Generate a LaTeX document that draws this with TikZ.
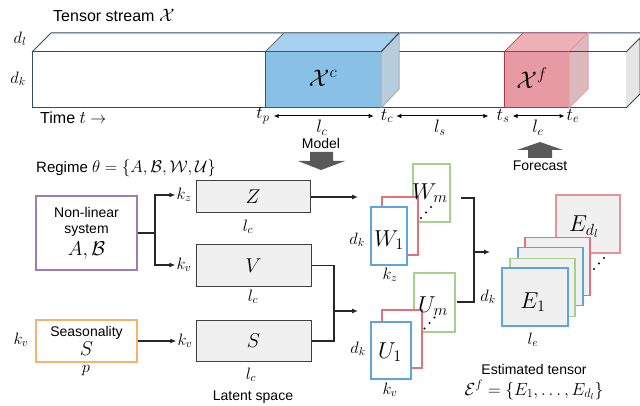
\documentclass[tikz,border=0pt]{standalone}
\usepackage{fix-cm}
\usepackage{fontspec}
\setmainfont{Liberation Sans}
\usetikzlibrary{arrows.meta}
\definecolor{tubeline}{HTML}{2F4B66}
\definecolor{cubegrey}{HTML}{505050}
\definecolor{bluefront}{HTML}{88C1E5}
\definecolor{bluetop}{HTML}{A6D0EE}
\definecolor{blueside}{HTML}{B8CDDC}
\definecolor{redfront}{HTML}{E89AA2}
\definecolor{redtop}{HTML}{EDB1B7}
\definecolor{redside}{HTML}{DDB8BD}
\definecolor{reddark}{HTML}{A63A47}
\definecolor{endgrey}{HTML}{E6E6E6}
\definecolor{cpurple}{HTML}{A07CB4}
\definecolor{corange}{HTML}{F9B26E}
\definecolor{cgreen}{HTML}{A7D08C}
\definecolor{cred}{HTML}{E4707C}
\definecolor{credl}{HTML}{E8939C}
\definecolor{cblue}{HTML}{5EA5DD}
\definecolor{boxfill}{HTML}{F0F0F0}
\definecolor{boxline}{HTML}{404040}
\definecolor{bigarrow}{HTML}{595959}
\tikzset{
  txt/.style={font=\fontsize{14}{16}\selectfont, inner sep=1pt},
  bigtxt/.style={font=\fontsize{16}{18}\selectfont, inner sep=1pt},
  mlab/.style={font=\fontsize{16.5}{18}\selectfont, inner sep=1pt},
  tlab/.style={font=\fontsize{18}{20}\selectfont, inner sep=1pt},
  biglet/.style={font=\fontsize{23}{25}\selectfont, inner sep=0pt},
  latent/.style={draw=boxline, fill=boxfill, line width=1pt, minimum width=115pt, font=\fontsize{20}{22}\selectfont, inner sep=0pt},
  srcbox/.style={draw, fill=white, line width=1.1pt, minimum width=101pt, align=center, font=\fontsize{14}{17}\selectfont, inner sep=0pt},
  matbox/.style={line width=1.1pt, fill=white, inner sep=0pt},
  ebox/.style={line width=1.1pt, fill=boxfill, inner sep=0pt, minimum width=65pt, minimum height=58pt},
  conn/.style={line width=1.1pt, draw=black!85, -{Latex[length=6pt,width=5pt]}},
  plainline/.style={line width=1.1pt, draw=black!85},
  dimarrow/.style={line width=1pt, {Latex[length=5pt,width=4.5pt]}-{Latex[length=5pt,width=4.5pt]}},
  dotmark/.style={fill=black, draw=none},
}
\begin{document}
\begin{tikzpicture}[x=1pt,y=-1pt]
\useasboundingbox (0,0) rectangle (640,406);

% ---------- tensor stream tube ----------
\fill[white] (32,52) rectangle (626,108);
\draw[tubeline, line width=1pt] (32,52) -- (51,33) -- (640,33);
\draw[tubeline, line width=1pt] (32,52) rectangle (626,108);
\filldraw[fill=endgrey, draw=tubeline, line width=1pt] (626,52) -- (640,38) -- (640,94) -- (626,108);

% blue cube
\filldraw[fill=bluetop, draw=cubegrey!80, line width=1pt] (265,52) -- (284,33) -- (399,33) -- (381,52) -- cycle;
\filldraw[fill=bluefront, draw=cubegrey, line width=1pt] (265,52) rectangle (381,108);
\filldraw[fill=blueside, draw=tubeline!45, line width=1pt] (381,52) -- (399,33) -- (399,89) -- (381,108) -- cycle;
\draw[tubeline, line width=1pt] (381,52) -- (399,33);
% red cube
\filldraw[fill=redtop, draw=reddark!80, line width=1pt] (504,52) -- (523,33) -- (588,33) -- (569,52) -- cycle;
\filldraw[fill=redfront, draw=reddark, line width=1pt] (504,52) rectangle (569,108);
\filldraw[fill=redside, draw=reddark!45, line width=1pt] (569,52) -- (588,33) -- (588,89) -- (569,108) -- cycle;
\draw[tubeline, line width=1pt] (569,52) -- (626,52);

\node[font=\fontsize{24}{26}\selectfont] (Xc) at (323,78) {$\mathcal{X}^c$};
\node[font=\fontsize{24}{26}\selectfont] (Xf) at (532,78) {$\mathcal{X}^f$};

\node[bigtxt, anchor=west] (title) at (52,15) {Tensor stream {\fontsize{18}{20}\selectfont$\mathcal{X}$}};
\node[mlab] (dl) at (20,39) {$d_l$};
\node[mlab] (dk) at (18,79) {$d_k$};
\node[bigtxt, anchor=west] (time) at (39,118) {Time {\fontsize{18}{20}\selectfont$t$} $\rightarrow$};

\node[tlab] (tp) at (263,116) {$t_p$};
\node[tlab] (tc) at (387,116) {$t_c$};
\node[tlab] (ts) at (503,116) {$t_s$};
\node[tlab] (te) at (573,116) {$t_e$};
\node[tlab] (lc) at (322,128) {$l_c$};
\node[tlab] (ls) at (440,128) {$l_s$};
\node[tlab] (le) at (538,128) {$l_e$};
\draw[dimarrow, shorten <=3pt, shorten >=6pt] (tp) -- (tc);
\draw[dimarrow, shorten <=2pt, shorten >=7pt] (tc) -- (ts);
\draw[dimarrow, shorten <=2pt, shorten >=1pt] (ts) -- (te);

% Model / Forecast arrows
\node[txt] (model) at (321,143) {Model};
\fill[bigarrow] (310,152) -- (333,152) -- (333,161) -- (345,161) -- (321,170) -- (298,161) -- (310,161) -- cycle;
\fill[bigarrow] (528,158) -- (552,158) -- (552,150) -- (563,150) -- (540,142) -- (517,150) -- (528,150) -- cycle;
\node[txt] (forecast) at (540,166) {Forecast};

\node[txt, font=\fontsize{15}{17}\selectfont, anchor=west] (regime) at (35,168) {Regime {\fontsize{17}{19}\selectfont$\theta = \{A,\mathcal{B},\mathcal{W},\mathcal{U}\}$}};

% ---------- source boxes ----------
\node[srcbox, draw=cpurple, minimum height=74pt] (nl) at (86.5,233) {Non-linear\\[-1pt]system\\[5pt]{\fontsize{20}{22}\selectfont$A,\mathcal{B}$}};
\node[srcbox, draw=corange, minimum height=42pt] (sea) at (86.5,341) {Seasonality\\[2pt]{\fontsize{20}{22}\selectfont$S$}};
\node[mlab] (kvs) at (21,340) {$k_v$};
\node[mlab] (p) at (86,371) {$p$};

% ---------- latent boxes ----------
\node[latent, minimum width=114pt, minimum height=32pt] (Z) at (253,197) {$Z$};
\node[latent, minimum height=41pt] (V) at (253.5,265.5) {$V$};
\node[latent, minimum height=41pt] (S) at (253.5,341) {$S$};
\node[mlab] (kz) at (184,195) {$k_z$};
\node[mlab] (kv1) at (184,265) {$k_v$};
\node[mlab] (kv2) at (185,341) {$k_v$};
\node[mlab] (lcZ) at (248,227) {$l_c$};
\node[mlab] (lcV) at (253,297) {$l_c$};
\node[mlab] (lcS) at (251,375) {$l_c$};
\node[txt] (latent) at (253,397) {Latent space};

\coordinate (j1) at (155,233);
\draw[plainline] (nl.east) -- (j1);
\draw[conn] (j1) |- (kz.west);
\draw[conn] (j1) |- (kv1.west);
\draw[conn] (sea.east) -- (kv2.west);

\coordinate (wIn) at (358,197);
\draw[conn] (Z.east) -- (wIn);
\coordinate (j2) at (334,311);
\coordinate (uIn) at (358,311);
\draw[plainline] (V.east) -| (j2) |- (S.east);
\draw[conn] (j2) -- (uIn);

% ---------- W stack ----------
\node[matbox, draw=cgreen, fill=none, minimum width=37pt, minimum height=58pt] (Wm) at (431.5,193) {};
\node[matbox, draw=cred, minimum width=36pt, minimum height=58pt] (Wr) at (400,226) {};
\node[matbox, draw=cblue, minimum width=36pt, minimum height=58pt] (W1) at (389,236) {};
\node[biglet] (W1lab) at (389,240) {$W_1$};
\node[biglet] (Wmlab) at (430,193) {$W_m$};
\fill[dotmark] (421,218) circle (1.1) (426,212.5) circle (1.1) (431,207) circle (1.1);
\node[mlab] (dkW) at (357,240) {$d_k$};
\node[mlab] (kzW) at (390,275) {$k_z$};

% ---------- U stack ----------
\node[matbox, draw=cgreen, fill=none, minimum width=41pt, minimum height=59pt] (Um) at (434.5,302.5) {};
\node[matbox, draw=cred, minimum width=40pt, minimum height=58pt] (Ur) at (402,339) {};
\node[matbox, draw=cblue, minimum width=40pt, minimum height=57pt] (U1) at (391,350.5) {};
\node[biglet] (U1lab) at (390,352) {$U_1$};
\node[biglet] (Umlab) at (433,306) {$U_m$};
\fill[dotmark] (424.5,328.5) circle (1.1) (429.5,323) circle (1.1) (434.5,317.5) circle (1.1);
\node[mlab] (dkU) at (358,349) {$d_k$};
\node[mlab] (kvU) at (390,390) {$k_v$};

\coordinate (wOut) at (461,198);
\coordinate (uOut) at (457,302);
\coordinate (j3) at (474,252);
\coordinate (eIn) at (490,252);
\draw[plainline] (wOut) -| (j3) |- (uOut);
\draw[conn] (j3) -- (eIn);

% ---------- E stack ----------
\node[ebox, draw=credl, minimum width=64pt] (Edl) at (588,224) {};
\node[biglet] (Edllab) at (584,227) {$E_{d_l}$};
\node[ebox, draw=cred] (Er) at (557.5,266.5) {};
\node[ebox, draw=cblue] (Eb) at (550.5,276.5) {};
\node[ebox, draw=cgreen] (Eg) at (542.5,287.5) {};
\node[ebox, draw=cblue, minimum width=66pt] (E1) at (535,297) {};
\node[biglet] (E1lab) at (533,302) {$E_1$};
\fill[dotmark] (594,269) circle (1.1) (599,263.5) circle (1.1) (604,258) circle (1.1);
\node[mlab] (dkE) at (488,297) {$d_k$};
\node[mlab] (leE) at (533,340) {$l_e$};
\node[txt] (est) at (534,369) {Estimated tensor};
\node[txt, font=\fontsize{17.5}{19}\selectfont] (Ef) at (534,390) {$\mathcal{E}^f = \{E_1, \ldots, E_{d_l}\}$};
\end{tikzpicture}
\end{document}
